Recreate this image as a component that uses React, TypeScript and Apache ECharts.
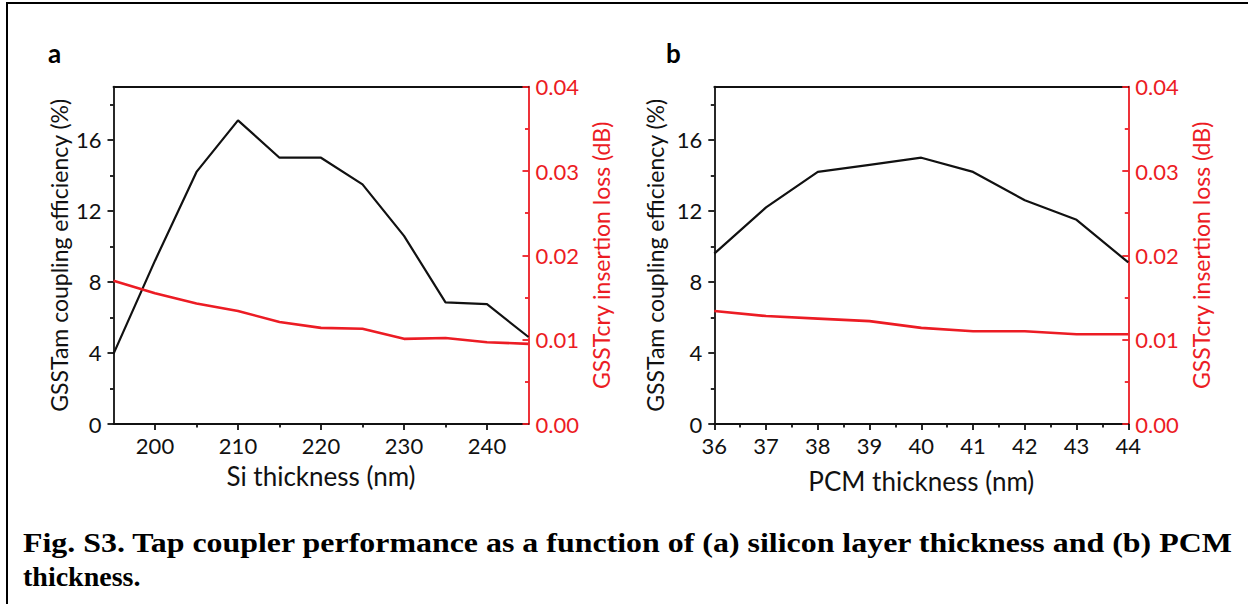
import React, { useEffect, useRef } from 'react';
import * as echarts from 'echarts';

// ---- Data ----
const siThickness = [195, 200, 205, 210, 215, 220, 225, 230, 235, 240, 245];
const siCoupling = [3.95, 9.2, 14.2, 17.1, 15.0, 15.0, 13.5, 10.6, 6.85, 6.75, 4.9];
const siLoss = [0.0170, 0.0155, 0.0143, 0.0134, 0.0121, 0.0114, 0.0113, 0.0101, 0.0102, 0.0097, 0.0095];

const pcmThickness = [36, 37, 38, 39, 40, 41, 42, 43, 44];
const pcmCoupling = [9.6, 12.2, 14.2, 14.6, 15.0, 14.2, 12.6, 11.5, 9.1];
const pcmLoss = [0.0134, 0.0128, 0.0125, 0.0122, 0.0114, 0.0110, 0.0110, 0.01065, 0.01065];

const siTicks = [200, 210, 220, 230, 240];
const siMinorTicks = [205, 215, 225, 235];
const pcmTicks = [36, 37, 38, 39, 40, 41, 42, 43, 44];
const pcmMinorTicks = [36.5, 37.5, 38.5, 39.5, 40.5, 41.5, 42.5, 43.5];
const couplingTicks = [0, 4, 8, 12, 16];
const couplingMinorTicks = [2, 6, 10, 14, 18];

const panelLabels = ['a', 'b'];
const xTitles = ['Si thickness (nm)', 'PCM thickness (nm)'];
const yLeftTitle = 'GSSTam coupling efficiency (%)';
const yRightTitle = 'GSSTcry insertion loss (dB)';
const captionLine1 = 'Fig. S3. Tap coupler performance as a function of (a) silicon layer thickness and (b) PCM';
const captionLine2 = 'thickness.';

const RED = '#ec1c24';
const INK = '#111';
const FONT = 'Lato';

function buildOption() {
  const grids = [
    { left: 113.5, top: 86.7, width: 415, height: 337.3 },
    { left: 714.3, top: 86.7, width: 414, height: 337.3 },
  ];
  const xRanges = [
    { min: 195, max: 245, ticks: siTicks, minor: siMinorTicks, gap: 39 },
    { min: 36, max: 44, ticks: pcmTicks, minor: pcmMinorTicks, gap: 44 },
  ];
  const xAxis: any[] = [];
  const yAxis: any[] = [];
  const series: any[] = [];
  const leftGaps = [43, 48];
  const rightGaps = [61, 61];
  const AW = 1.8;

  for (let g = 0; g < 2; g++) {
    const r = xRanges[g];
    xAxis.push({
      type: 'value', gridIndex: g, position: 'bottom', min: r.min, max: r.max,
      name: xTitles[g], nameLocation: 'middle', nameGap: r.gap,
      nameTextStyle: { fontFamily: FONT, fontSize: 26, color: INK },
      axisLine: { show: true, onZero: false, lineStyle: { color: INK, width: AW } },
      axisTick: { show: true, customValues: r.ticks, length: 6, lineStyle: { color: INK, width: AW } },
      axisLabel: { show: true, customValues: r.ticks, margin: 10, fontFamily: FONT, fontSize: 22, color: INK },
      splitLine: { show: false },
    });
    xAxis.push({
      type: 'value', gridIndex: g, position: 'bottom', min: r.min, max: r.max,
      axisLine: { show: false, onZero: false },
      axisTick: { show: true, customValues: r.minor, length: 3.5, lineStyle: { color: INK, width: AW } },
      axisLabel: { show: false },
      splitLine: { show: false },
    });
    xAxis.push({
      type: 'value', gridIndex: g, position: 'top', min: r.min, max: r.max,
      axisLine: { show: true, onZero: false, lineStyle: { color: INK, width: AW } },
      axisTick: { show: false }, axisLabel: { show: false }, splitLine: { show: false },
    });

    yAxis.push({
      type: 'value', gridIndex: g, position: 'left', min: 0, max: 19,
      name: yLeftTitle, nameLocation: 'middle', nameGap: leftGaps[g], nameRotate: 90,
      nameTextStyle: { fontFamily: FONT, fontSize: 23, color: INK },
      axisLine: { show: true, onZero: false, lineStyle: { color: INK, width: AW } },
      axisTick: { show: true, customValues: couplingTicks, length: 6, lineStyle: { color: INK, width: AW } },
      axisLabel: { show: true, customValues: couplingTicks, margin: 12, fontFamily: FONT, fontSize: 22, color: INK },
      splitLine: { show: false },
    });
    yAxis.push({
      type: 'value', gridIndex: g, position: 'left', min: 0, max: 19,
      axisLine: { show: false, onZero: false },
      axisTick: { show: true, customValues: couplingMinorTicks, length: 3.5, lineStyle: { color: INK, width: AW } },
      axisLabel: { show: false }, splitLine: { show: false },
    });
    yAxis.push({
      type: 'value', gridIndex: g, position: 'right', min: 0, max: 0.04, interval: 0.01,
      name: yRightTitle, nameLocation: 'middle', nameGap: rightGaps[g], nameRotate: 90,
      nameTextStyle: { fontFamily: FONT, fontSize: 23, color: RED },
      axisLine: { show: true, onZero: false, lineStyle: { color: RED, width: AW } },
      axisTick: { show: true, inside: true, length: 6, lineStyle: { color: RED, width: AW } },
      minorTick: { show: true, splitNumber: 2, length: 3.5, lineStyle: { color: RED, width: AW } },
      axisLabel: { show: true, margin: 7, fontFamily: FONT, fontSize: 22, color: RED, formatter: (v: number) => v.toFixed(2) },
      splitLine: { show: false },
    });
  }

  const sets = [
    { x: siThickness, c: siCoupling, l: siLoss },
    { x: pcmThickness, c: pcmCoupling, l: pcmLoss },
  ];
  sets.forEach((s, g) => {
    series.push({
      type: 'line', xAxisIndex: g * 3, yAxisIndex: g * 3, showSymbol: false, symbol: 'none',
      data: s.x.map((x, i) => [x, s.c[i]]),
      lineStyle: { color: INK, width: 2.2 }, z: 3,
    });
    series.push({
      type: 'line', xAxisIndex: g * 3, yAxisIndex: g * 3 + 2, showSymbol: false, symbol: 'none',
      data: s.x.map((x, i) => [x, s.l[i]]),
      lineStyle: { color: RED, width: 2.6 }, z: 4,
    });
  });

  return {
    animation: false,
    backgroundColor: '#ffffff',
    grid: grids.map((g) => ({ ...g, containLabel: false })),
    xAxis,
    yAxis,
    series,
    graphic: [
      { type: 'line', shape: { x1: 6, y1: 3, x2: 1248, y2: 3 }, style: { stroke: '#000', lineWidth: 2 } },
      { type: 'line', shape: { x1: 7, y1: 3, x2: 7, y2: 604 }, style: { stroke: '#000', lineWidth: 2 } },
      { type: 'text', x: 48, y: 53, style: { text: panelLabels[0], fontFamily: FONT, fontWeight: 'bold', fontSize: 26, fill: '#000', verticalAlign: 'middle' } },
      { type: 'text', x: 666, y: 53, style: { text: panelLabels[1], fontFamily: FONT, fontWeight: 'bold', fontSize: 26, fill: '#000', verticalAlign: 'middle' } },
      { type: 'text', x: 23, y: 528, scaleX: 1.14, style: { text: captionLine1, fontFamily: 'Liberation Serif', fontWeight: 'bold', fontSize: 28, fill: '#000', verticalAlign: 'top' } },
      { type: 'text', x: 23, y: 562, style: { text: captionLine2, fontFamily: 'Liberation Serif', fontWeight: 'bold', fontSize: 28, fill: '#000', verticalAlign: 'top' } },
    ],
  };
}

export default function App() {
  const ref = useRef<HTMLDivElement>(null);
  useEffect(() => {
    if (!ref.current) return;
    const chart = echarts.init(ref.current, undefined, { renderer: 'svg' });
    chart.setOption(buildOption() as any);
    return () => chart.dispose();
  }, []);
  return (
    <div
      ref={ref}
      style={{ position: 'fixed', left: 0, top: 0, width: 1248, height: 604, background: '#fff' }}
    />
  );
}
